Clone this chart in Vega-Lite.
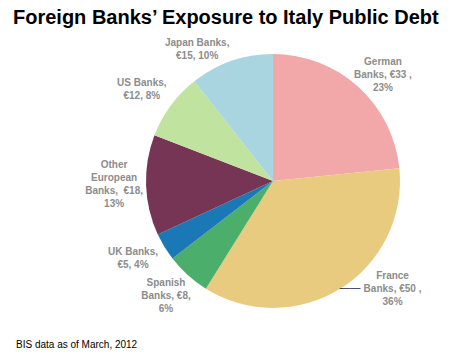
{
  "$schema": "https://vega.github.io/schema/vega-lite/v6.json",
  "padding": {"left": 13, "top": 8, "right": 0, "bottom": 5},
  "background": "white",
  "title": {"text": "Foreign Banks’ Exposure to Italy Public Debt", "anchor": "start", "font": "Liberation Sans", "fontSize": 20, "fontWeight": "bold", "color": "#000000", "dx": -3, "offset": 8},
  "config": {"view": {"stroke": null}, "concat": {"spacing": 0},
    "text": {"radius": 158, "font": "Liberation Sans", "fontSize": 10, "fontWeight": "bold", "color": "#8C8C8C", "lineBreak": "\n", "lineHeight": 13, "align": "center", "baseline": "middle"}},
  "vconcat": [
    {
      "width": 406,
      "height": 290,
      "title": {"text": "BIS data as of March, 2012", "orient": "bottom", "anchor": "start", "font": "Liberation Sans", "fontSize": 10, "fontWeight": "normal", "color": "#000000", "dx": -54, "offset": 14},
      "data": {"values": [
        {"bank": "German", "value": 33, "order": 1, "label": "German\nBanks, €33 ,\n23%"},
        {"bank": "France", "value": 50, "order": 2, "label": "France\nBanks, €50 ,\n36%"},
        {"bank": "Spanish", "value": 8, "order": 3, "label": "Spanish\nBanks, €8,\n6%"},
        {"bank": "UK", "value": 5, "order": 4, "label": "UK Banks,\n€5, 4%"},
        {"bank": "Other European", "value": 18, "order": 5, "label": "Other\nEuropean\nBanks, \u00a0€18,\n13%"},
        {"bank": "US", "value": 12, "order": 6, "label": "US Banks,\n€12, 8%"},
        {"bank": "Japan", "value": 15, "order": 7, "label": "Japan Banks,\n€15, 10%"}
      ]},
      "encoding": {
        "theta": {"field": "value", "type": "quantitative", "stack": true},
        "order": {"field": "order", "type": "quantitative"}
      },
      "layer": [
        {
          "mark": {"type": "arc", "radius": 127},
          "encoding": {
            "color": {"field": "bank", "type": "nominal", "legend": null,
              "scale": {"domain": ["German", "France", "Spanish", "UK", "Other European", "US", "Japan"],
                        "range": ["#F2A7A8", "#E9CB80", "#4CAE6B", "#1B78B6", "#763555", "#C1E3A0", "#A8D5E0"]}}
          }
        },
        {
          "mark": {"type": "text", "clip": true, "radius": 126, "align": "left", "baseline": "alphabetic", "dy": 3, "fontSize": 10.5, "fontWeight": "normal", "color": "#1C1C50"},
          "encoding": {"text": {"condition": {"test": "datum.bank == 'France'", "value": "——"}, "value": ""}}
        },
        {
          "mark": {"type": "text", "clip": true, "dx": 4, "dy": -2},
          "encoding": {"text": {"condition": {"test": "datum.bank == 'German'", "field": "label"}, "value": ""}}
        },
        {
          "mark": {"type": "text", "clip": true, "dx": 36, "dy": -39},
          "encoding": {"text": {"condition": {"test": "datum.bank == 'France'", "field": "label"}, "value": ""}}
        },
        {
          "mark": {"type": "text", "clip": true, "dx": -1, "dy": -15},
          "encoding": {"text": {"condition": {"test": "datum.bank == 'Spanish'", "field": "label"}, "value": ""}}
        },
        {
          "mark": {"type": "text", "clip": true, "dx": -5, "dy": -11.5},
          "encoding": {"text": {"condition": {"test": "datum.bank == 'UK'", "field": "label"}, "value": ""}}
        },
        {
          "mark": {"type": "text", "clip": true, "dx": -1, "dy": -21.5},
          "encoding": {"text": {"condition": {"test": "datum.bank == 'Other European'", "field": "label"}, "value": ""}}
        },
        {
          "mark": {"type": "text", "clip": true, "dx": -4, "dy": -4.5},
          "encoding": {"text": {"condition": {"test": "datum.bank == 'US'", "field": "label"}, "value": ""}}
        },
        {
          "mark": {"type": "text", "clip": true, "dx": -24, "dy": 11.5},
          "encoding": {"text": {"condition": {"test": "datum.bank == 'Japan'", "field": "label"}, "value": ""}}
        }
      ]
    }
  ]
}
